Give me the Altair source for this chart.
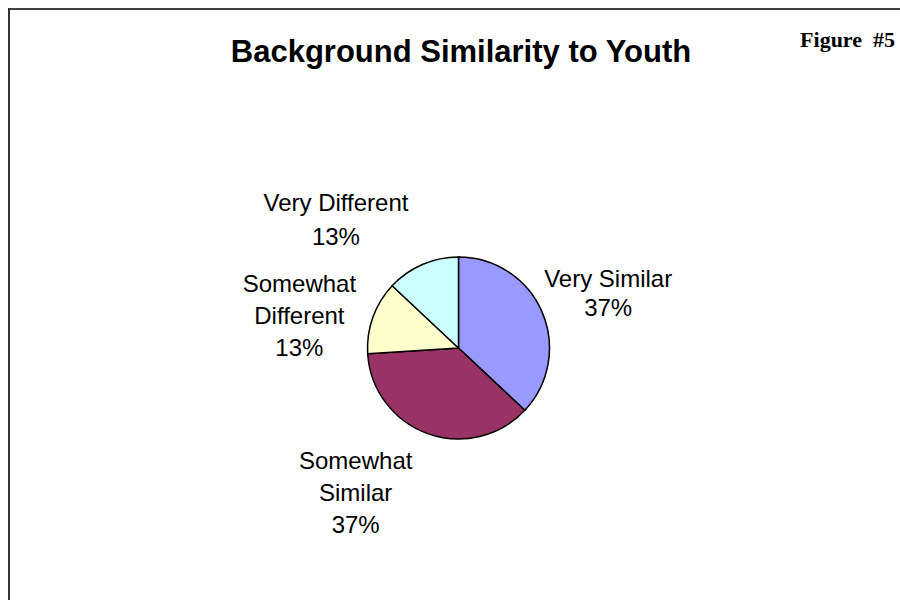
import math
import altair as alt
import pandas as pd

# Survey responses: how similar the mentor's background is to the youth's
categories = ["Very Similar", "Somewhat Similar", "Somewhat Different", "Very Different"]
percents = [37, 37, 13, 13]
colors = ["#9999FF", "#993366", "#FFFFCC", "#CCFFFF"]

df = pd.DataFrame({
    "category": categories,
    "value": percents,
    "order": list(range(len(categories))),
})
# Two-word "Somewhat" names break onto a second line
df["label"] = [
    c.replace("Somewhat ", "Somewhat\n") + "\n" + f"{v}%"
    for c, v in zip(categories, percents)
]

CX, CY, R = 458.5, 348, 91
FONT = "Liberation Sans"

color_scale = alt.Scale(domain=categories, range=colors)

pie = alt.Chart(df).mark_arc(
    outerRadius=R, stroke="black", strokeWidth=1.5
).encode(
    theta=alt.Theta("value:Q", stack=True, scale=alt.Scale(domain=[0, 100])),
    color=alt.Color("category:N", scale=color_scale, legend=None),
    order=alt.Order("order:Q"),
    x=alt.value(CX),
    y=alt.value(CY),
)

# Label layer: mid-angle of each slice, nudged like the spreadsheet's label placement
base = alt.Chart(df).transform_window(
    cum="sum(value)", sort=[alt.SortField("order")]
).transform_calculate(mid="datum.cum - datum.value / 2")

offsets = {
    "Very Similar": (12, -1, 29),
    "Somewhat Similar": (-52, -20, 32),
    "Somewhat Different": (-18, -5, 32),
    "Very Different": (-63, 1, 34),
}

label_layers = []
for cat in categories:
    dx, dy, lh = offsets[cat]
    label_layers.append(
        base.transform_filter(alt.datum.category == cat).mark_text(
            radius=150, dx=dx, dy=dy, lineBreak="\n", lineHeight=lh,
            font=FONT, fontSize=24, color="black",
            align="center", baseline="alphabetic",
        ).encode(
            theta=alt.Theta("mid:Q", stack=None,
                            scale=alt.Scale(domain=[0, 100], range=[0, 2 * math.pi])),
            text="label:N",
            x=alt.value(CX),
            y=alt.value(CY),
        )
    )

anchor = alt.Chart(pd.DataFrame({"k": [0]}))

title = anchor.mark_text(
    text="Background Similarity to Youth", font=FONT, fontSize=31,
    fontWeight="bold", align="center", baseline="alphabetic", color="black",
).encode(x=alt.value(461), y=alt.value(62))

fig_no = anchor.mark_text(
    text="Figure\u00a0 #5", font="Liberation Serif", fontSize=22,
    fontWeight="bold", align="right", baseline="alphabetic", color="black",
).encode(x=alt.value(895), y=alt.value(47))

frame_left = anchor.mark_rule(color="#333333", strokeWidth=2).encode(
    x=alt.value(9), y=alt.value(9), y2=alt.value(600)
)
frame_top = anchor.mark_rule(color="black", strokeWidth=1.5).encode(
    x=alt.value(8), x2=alt.value(900), y=alt.value(9)
)

chart = alt.layer(
    frame_left, frame_top, pie, *label_layers, title, fig_no
).resolve_scale(
    theta="independent"
).properties(
    width=900, height=600, padding=0,
    autosize=alt.AutoSizeParams(type="none"),
    background="white",
).configure_view(stroke=None)

chart.save("out.html", embed_options={"renderer": "svg", "actions": False})
